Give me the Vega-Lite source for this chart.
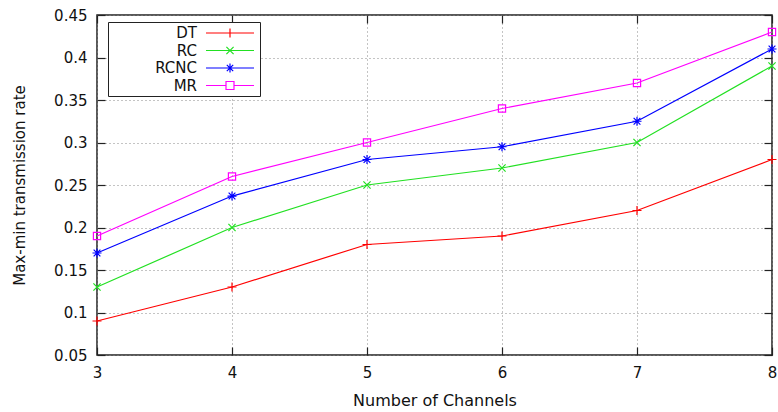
{
  "$schema": "https://vega.github.io/schema/vega-lite/v6.json",
  "width": 675,
  "height": 340,
  "autosize": {"type": "none"},
  "padding": {"left": 97, "top": 15, "right": 6, "bottom": 57},
  "data": {
    "values": [
      {"channels": 3, "rate": 0.09, "series": "DT"},
      {"channels": 4, "rate": 0.13, "series": "DT"},
      {"channels": 5, "rate": 0.18, "series": "DT"},
      {"channels": 6, "rate": 0.19, "series": "DT"},
      {"channels": 7, "rate": 0.22, "series": "DT"},
      {"channels": 8, "rate": 0.28, "series": "DT"},
      {"channels": 3, "rate": 0.13, "series": "RC"},
      {"channels": 4, "rate": 0.20, "series": "RC"},
      {"channels": 5, "rate": 0.25, "series": "RC"},
      {"channels": 6, "rate": 0.27, "series": "RC"},
      {"channels": 7, "rate": 0.30, "series": "RC"},
      {"channels": 8, "rate": 0.39, "series": "RC"},
      {"channels": 3, "rate": 0.17, "series": "RCNC"},
      {"channels": 4, "rate": 0.237, "series": "RCNC"},
      {"channels": 5, "rate": 0.28, "series": "RCNC"},
      {"channels": 6, "rate": 0.295, "series": "RCNC"},
      {"channels": 7, "rate": 0.325, "series": "RCNC"},
      {"channels": 8, "rate": 0.41, "series": "RCNC"},
      {"channels": 3, "rate": 0.19, "series": "MR"},
      {"channels": 4, "rate": 0.26, "series": "MR"},
      {"channels": 5, "rate": 0.30, "series": "MR"},
      {"channels": 6, "rate": 0.34, "series": "MR"},
      {"channels": 7, "rate": 0.37, "series": "MR"},
      {"channels": 8, "rate": 0.43, "series": "MR"}
    ]
  },
  "layer": [
    {
      "mark": {"type": "line", "strokeWidth": 1.2, "clip": false},
      "encoding": {
        "x": {
          "field": "channels", "type": "quantitative",
          "scale": {"domain": [3, 8], "nice": false, "zero": false},
          "axis": {"orient": "bottom", "values": [3, 4, 5, 6, 7, 8], "format": "d", "grid": true, "title": "Number of Channels", "tickSize": -8, "labelPadding": 18, "titlePadding": 12, "titleFontSize": 16}
        },
        "y": {
          "field": "rate", "type": "quantitative",
          "scale": {"domain": [0.05, 0.45], "nice": false, "zero": false},
          "axis": {"orient": "left", "values": [0.05, 0.1, 0.15, 0.2, 0.25, 0.3, 0.35, 0.4, 0.45], "format": "~g", "grid": true, "title": "Max-min transmission rate", "tickSize": -8, "labelPadding": 18, "titlePadding": 26, "titleFontSize": 15}
        },
        "color": {
          "field": "series", "type": "nominal",
          "scale": {"domain": ["DT", "RC", "RCNC", "MR"], "range": ["#ff0000", "#22e022", "#0000ff", "#ff00ff"]},
          "legend": null
        }
      }
    },
    {
      "mark": {"type": "point", "filled": false, "strokeWidth": 1.2, "size": 81, "opacity": 1, "clip": false},
      "encoding": {
        "x": {
          "field": "channels", "type": "quantitative",
          "scale": {"domain": [3, 8], "nice": false, "zero": false},
          "axis": {"orient": "top", "values": [3, 4, 5, 6, 7, 8], "labels": false, "grid": false, "title": null, "tickSize": -8}
        },
        "y": {
          "field": "rate", "type": "quantitative",
          "scale": {"domain": [0.05, 0.45], "nice": false, "zero": false},
          "axis": {"orient": "right", "values": [0.05, 0.1, 0.15, 0.2, 0.25, 0.3, 0.35, 0.4, 0.45], "labels": false, "grid": false, "title": null, "tickSize": -8}
        },
        "color": {
          "field": "series", "type": "nominal",
          "scale": {"domain": ["DT", "RC", "RCNC", "MR"], "range": ["#ff0000", "#22e022", "#0000ff", "#ff00ff"]},
          "legend": null
        },
        "shape": {
          "field": "series", "type": "nominal",
          "scale": {"domain": ["DT", "RC", "RCNC", "MR"], "range": [
            "M-1,0L1,0M0,-1L0,1",
            "M-0.8,-0.8L0.8,0.8M-0.8,0.8L0.8,-0.8",
            "M-1,0L1,0M0,-1L0,1M-0.75,-0.75L0.75,0.75M-0.75,0.75L0.75,-0.75",
            "M-0.8,-0.8L0.8,-0.8L0.8,0.8L-0.8,0.8Z"
          ]},
          "legend": null
        }
      }
    },
    {
      "transform": [{"filter": "datum.channels < 0"}],
      "mark": {"type": "point", "filled": false, "strokeWidth": 1.2, "size": 256, "opacity": 1},
      "encoding": {
        "color": {
          "field": "series", "type": "nominal",
          "scale": {"domain": ["DT", "RC", "RCNC", "MR"], "range": ["#ff0000", "#22e022", "#0000ff", "#ff00ff"]},
          "legend": {"title": null, "orient": "none", "legendX": 11, "legendY": 7, "labelAlign": "right", "labelOffset": 69, "symbolSize": 256, "symbolStrokeWidth": 1.2, "padding": 2, "rowPadding": 0.5}
        },
        "shape": {
          "field": "series", "type": "nominal",
          "scale": {"domain": ["DT", "RC", "RCNC", "MR"], "range": [
            "M10.875,0L16.875,0M13.875,-0.55L13.875,0.55M17,0",
            "M10.875,0L16.875,0M13.425,-0.45L14.325,0.45M13.425,0.45L14.325,-0.45M17,0",
            "M10.875,0L16.875,0M13.875,-0.55L13.875,0.55M13.475,-0.4L14.275,0.4M13.475,0.4L14.275,-0.4M17,0",
            "M10.875,0L13.375,0M14.375,0L16.875,0M13.375,-0.5L14.375,-0.5L14.375,0.5L13.375,0.5ZM17,0"
          ]},
          "legend": {"title": null, "orient": "none", "legendX": 11, "legendY": 7, "labelAlign": "right", "labelOffset": 69, "symbolSize": 256, "symbolStrokeWidth": 1.2, "padding": 2, "rowPadding": 0.5}
        }
      }
    }
  ],
  "resolve": {
    "scale": {"shape": "independent", "color": "independent"},
    "axis": {"x": "independent", "y": "independent"}
  },
  "config": {
    "font": "DejaVu Sans",
    "view": {"stroke": "#222222", "strokeWidth": 1.5},
    "axis": {
      "domain": false,
      "tickColor": "#222222",
      "tickWidth": 1.2,
      "gridColor": "#888888",
      "gridDash": [1, 3],
      "gridWidth": 1,
      "gridOpacity": 1,
      "labelFont": "DejaVu Sans",
      "labelFontSize": 15,
      "labelColor": "#111111",
      "titleFont": "DejaVu Sans",
      "titleFontWeight": "normal",
      "titleColor": "#111111",
      "labelFlush": false
    },
    "legend": {
      "strokeColor": "#222222",
      "fillColor": "white",
      "labelFont": "DejaVu Sans",
      "labelFontSize": 15,
      "labelColor": "#111111"
    }
  }
}
